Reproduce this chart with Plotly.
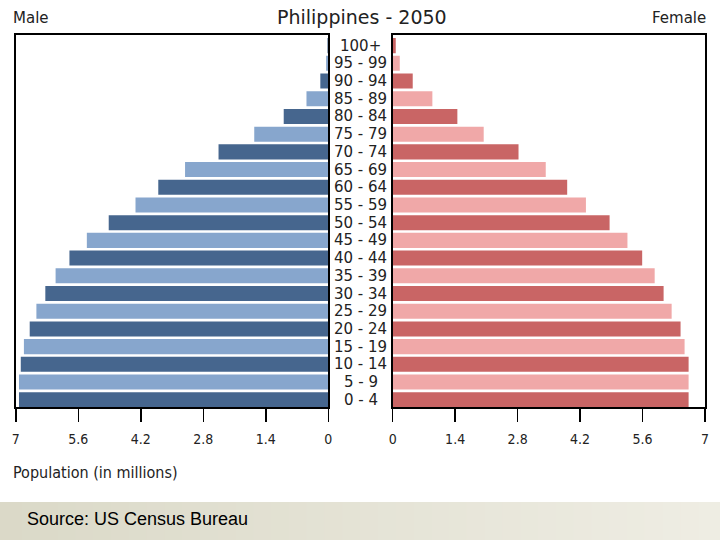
import plotly.graph_objects as go

age_groups = ["0 - 4", "5 - 9", "10 - 14", "15 - 19", "20 - 24", "25 - 29", "30 - 34",
              "35 - 39", "40 - 44", "45 - 49", "50 - 54", "55 - 59", "60 - 64", "65 - 69",
              "70 - 74", "75 - 79", "80 - 84", "85 - 89", "90 - 94", "95 - 99", "100+"]
male = [6.93, 6.93, 6.89, 6.82, 6.69, 6.54, 6.34, 6.11, 5.80, 5.41, 4.92,
        4.32, 3.81, 3.21, 2.46, 1.66, 1.00, 0.49, 0.18, 0.05, 0.02]
female = [6.63, 6.63, 6.63, 6.54, 6.45, 6.25, 6.07, 5.87, 5.59, 5.26, 4.86,
          4.33, 3.91, 3.43, 2.82, 2.04, 1.45, 0.89, 0.45, 0.16, 0.07]
tick_vals = [0, 1.4, 2.8, 4.2, 5.6, 7]
tick_text = ["0", "1.4", "2.8", "4.2", "5.6", "7"]

male_colors = ["#46668E" if i % 2 == 0 else "#87A6CD" for i in range(len(age_groups))]
female_colors = ["#C96565" if i % 2 == 0 else "#F0A8A8" for i in range(len(age_groups))]

fig = go.Figure()
fig.add_trace(go.Bar(x=male, y=age_groups, orientation="h", marker=dict(color=male_colors, line=dict(width=0)),
                     xaxis="x", yaxis="y", showlegend=False, hoverinfo="skip"))
fig.add_trace(go.Bar(x=female, y=age_groups, orientation="h", marker=dict(color=female_colors, line=dict(width=0)),
                     xaxis="x2", yaxis="y2", showlegend=False, hoverinfo="skip"))

tickfont = dict(family="DejaVu Sans Condensed, DejaVu Sans", size=14, color="#222")
xcommon = dict(tickvals=tick_vals, ticktext=tick_text, showgrid=False, zeroline=False,
               showline=True, linecolor="black", linewidth=2, mirror=True,
               ticks="outside", ticklen=13, tickwidth=1.5, tickcolor="black", tickfont=tickfont,
               ticklabelstandoff=5, fixedrange=True)
ycommon = dict(categoryorder="array", categoryarray=age_groups, range=[-0.41, 20.6],
               showticklabels=False, showgrid=False, zeroline=False,
               showline=True, linecolor="black", linewidth=2, mirror=True, ticks="",
               fixedrange=True)

fig.update_layout(
    width=720, height=540, autosize=False,
    margin=dict(l=0, r=0, t=35, b=133),
    paper_bgcolor="white", plot_bgcolor="white",
    bargap=0.15,
    xaxis=dict(domain=[12/720, 328/720], range=[7, 0], anchor="y", **xcommon),
    xaxis2=dict(domain=[393/720, 709/720], range=[0, 7], anchor="y2", **xcommon),
    yaxis=dict(anchor="x", **ycommon),
    yaxis2=dict(anchor="x2", matches="y", **{k: v for k, v in ycommon.items() if k != "range"}),
)

plot_h = 540 - 35 - 133


def py(pix):
    """page pixel y -> paper coordinate (plot-area relative)"""
    return (540 - 133 - pix) / plot_h


annotations = []
for a in age_groups:
    annotations.append(dict(x=361/720, xref="paper", y=a, yref="y", text=a, showarrow=False,
                            xanchor="center", yanchor="middle",
                            font=dict(family="DejaVu Sans", size=15, color="#222")))
annotations += [
    dict(x=362/720, y=py(17), xref="paper", yref="paper", yanchor="middle", xanchor="center",
         text="Philippines - 2050", showarrow=False,
         font=dict(family="DejaVu Sans", size=19, color="#222")),
    dict(x=7/720, y=py(18), xref="paper", yref="paper", yanchor="middle", xanchor="left",
         text="Male", showarrow=False, font=dict(family="DejaVu Sans", size=15, color="#222")),
    dict(x=712/720, y=py(18), xref="paper", yref="paper", yanchor="middle", xanchor="right",
         text="Female", showarrow=False, font=dict(family="DejaVu Sans", size=15, color="#222")),
    dict(x=7/720, y=py(472), xref="paper", yref="paper", yanchor="middle", xanchor="left",
         text="Population (in millions)", showarrow=False,
         font=dict(family="DejaVu Sans Condensed, DejaVu Sans", size=16, color="#222")),
    dict(x=21/720, y=py(519), xref="paper", yref="paper", yanchor="middle", xanchor="left",
         text="Source: US Census Bureau", showarrow=False,
         font=dict(family="Liberation Sans, Arial", size=18, color="black")),
]
fig.update_layout(annotations=annotations)

# beige footer band with a soft left-to-right gradient (style only)
c_left = (0xDB, 0xD9, 0xC8)
c_right = (0xEE, 0xED, 0xE3)
n = 40
for i in range(n):
    t = i / (n - 1)
    col = "rgb(%d,%d,%d)" % tuple(round(a + (b - a) * t) for a, b in zip(c_left, c_right))
    x0 = -0.05 if i == 0 else i / n
    x1 = 1.05 if i == n - 1 else (i + 1) / n + 0.003
    fig.add_shape(type="rect", xref="paper", yref="paper", x0=x0, x1=x1, y0=py(545), y1=py(502),
                  fillcolor=col, line=dict(width=0), layer="below")

post = (
    "var s='margin:0;padding:0;overflow:hidden;width:720px;height:540px;';"
    "document.documentElement.style.cssText=s;"
    "document.body.style.cssText=s;"
    "var g=document.getElementById('{plot_id}');"
    "g.style.position='absolute';g.style.left='0px';g.style.top='0px';"
)
fig.write_html("out.html", config={"displayModeBar": False, "staticPlot": True}, post_script=post)
